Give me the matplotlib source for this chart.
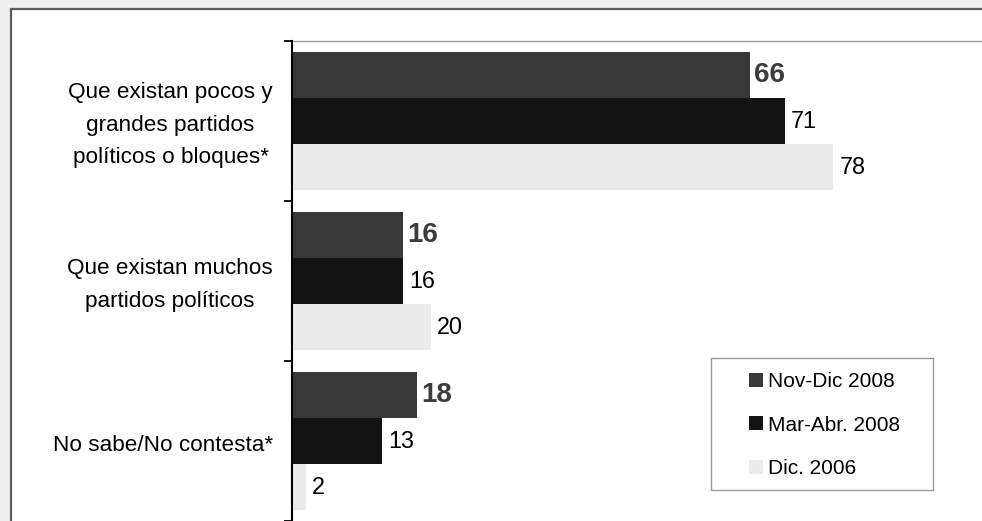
import numpy as np
import matplotlib.pyplot as plt
from matplotlib.patches import Rectangle

plt.rcParams['font.family'] = ['Liberation Sans', 'DejaVu Sans']

categories = ["Que existan pocos y\ngrandes partidos\npolíticos o bloques*",
              "Que existan muchos\npartidos políticos",
              "No sabe/No contesta*"]
series_names = ["Nov-Dic 2008", "Mar-Abr. 2008", "Dic. 2006"]
nov_dic_2008 = [66, 16, 18]
mar_abr_2008 = [71, 16, 13]
dic_2006 = [78, 20, 2]
series_values = [nov_dic_2008, mar_abr_2008, dic_2006]
colors = ["#383838", "#131313", "#ebebeb"]

W, H = 982, 521
fig = plt.figure(figsize=(W / 100, H / 100), dpi=100)
fig.patch.set_facecolor("#f0f0f0")

# white chart frame, cropped at right and bottom
fig.patches.append(Rectangle((11 / W, -0.05), 1.1, (H - 9) / H + 0.05,
                             transform=fig.transFigure, facecolor="white",
                             edgecolor="#5c5c5c", linewidth=1.6, zorder=-10))

ax = fig.add_axes([292 / W, 0, 694 / W, 480 / H])
ax.set_facecolor("white")

bar_h = 0.2875
y = np.arange(len(categories))
offsets = [-bar_h, 0, bar_h]
handles = []
for i, (name, vals, col) in enumerate(zip(series_names, series_values, colors)):
    bars = ax.barh(y + offsets[i], vals, height=bar_h, color=col, label=name, zorder=2)
    handles.append(bars)
    for yy, v in zip(y + offsets[i], vals):
        if i == 0:
            ax.annotate(str(v), (v, yy), xytext=(4, 0), textcoords="offset pixels",
                        va="center", ha="left", fontsize=20, fontweight="bold",
                        color="#3c3c3c")
        else:
            ax.annotate(str(v), (v, yy), xytext=(6, 0), textcoords="offset pixels",
                        va="center", ha="left", fontsize=16.8, color="black")

# category labels
for yy, cat in zip(y, categories):
    ax.annotate(cat, (0, yy), xycoords=("axes fraction", "data"),
                xytext=(-19, -4), textcoords="offset pixels", ha="right",
                va="center", multialignment="center", linespacing=1.73,
                fontsize=16.2, color="black")

ax.set_xlim(0, 100)
ax.set_ylim(2.5, -0.5)
ax.set_xticks([])
ax.set_yticks([-0.5, 0.5, 1.5, 2.5])
ax.set_yticklabels([])
ax.tick_params(axis="y", which="major", direction="out", length=6, width=1.3, color="black")

ax.spines["left"].set_color("black")
ax.spines["left"].set_linewidth(1.5)
ax.spines["left"].set_zorder(3)
ax.spines["bottom"].set_visible(False)
for s in ["top", "right"]:
    ax.spines[s].set_color("#999999")
    ax.spines[s].set_linewidth(1.0)

# legend box drawn separately, entries placed inside
fig.patches.append(Rectangle((711 / W, 1 - 490 / H), 222 / W, 132 / H,
                             transform=fig.transFigure, facecolor="white",
                             edgecolor="#999999", linewidth=1.0, zorder=4))
leg = fig.legend(handles, series_names, loc="upper left",
                 bbox_to_anchor=(749 / W, 1 - 372 / H),
                 fontsize=15, frameon=False,
                 handlelength=0.67, handleheight=0.67, handletextpad=0.25,
                 labelspacing=1.18, borderpad=0, borderaxespad=0)
leg.set_zorder(6)

fig.savefig("out.png", dpi=100, facecolor=fig.get_facecolor())
